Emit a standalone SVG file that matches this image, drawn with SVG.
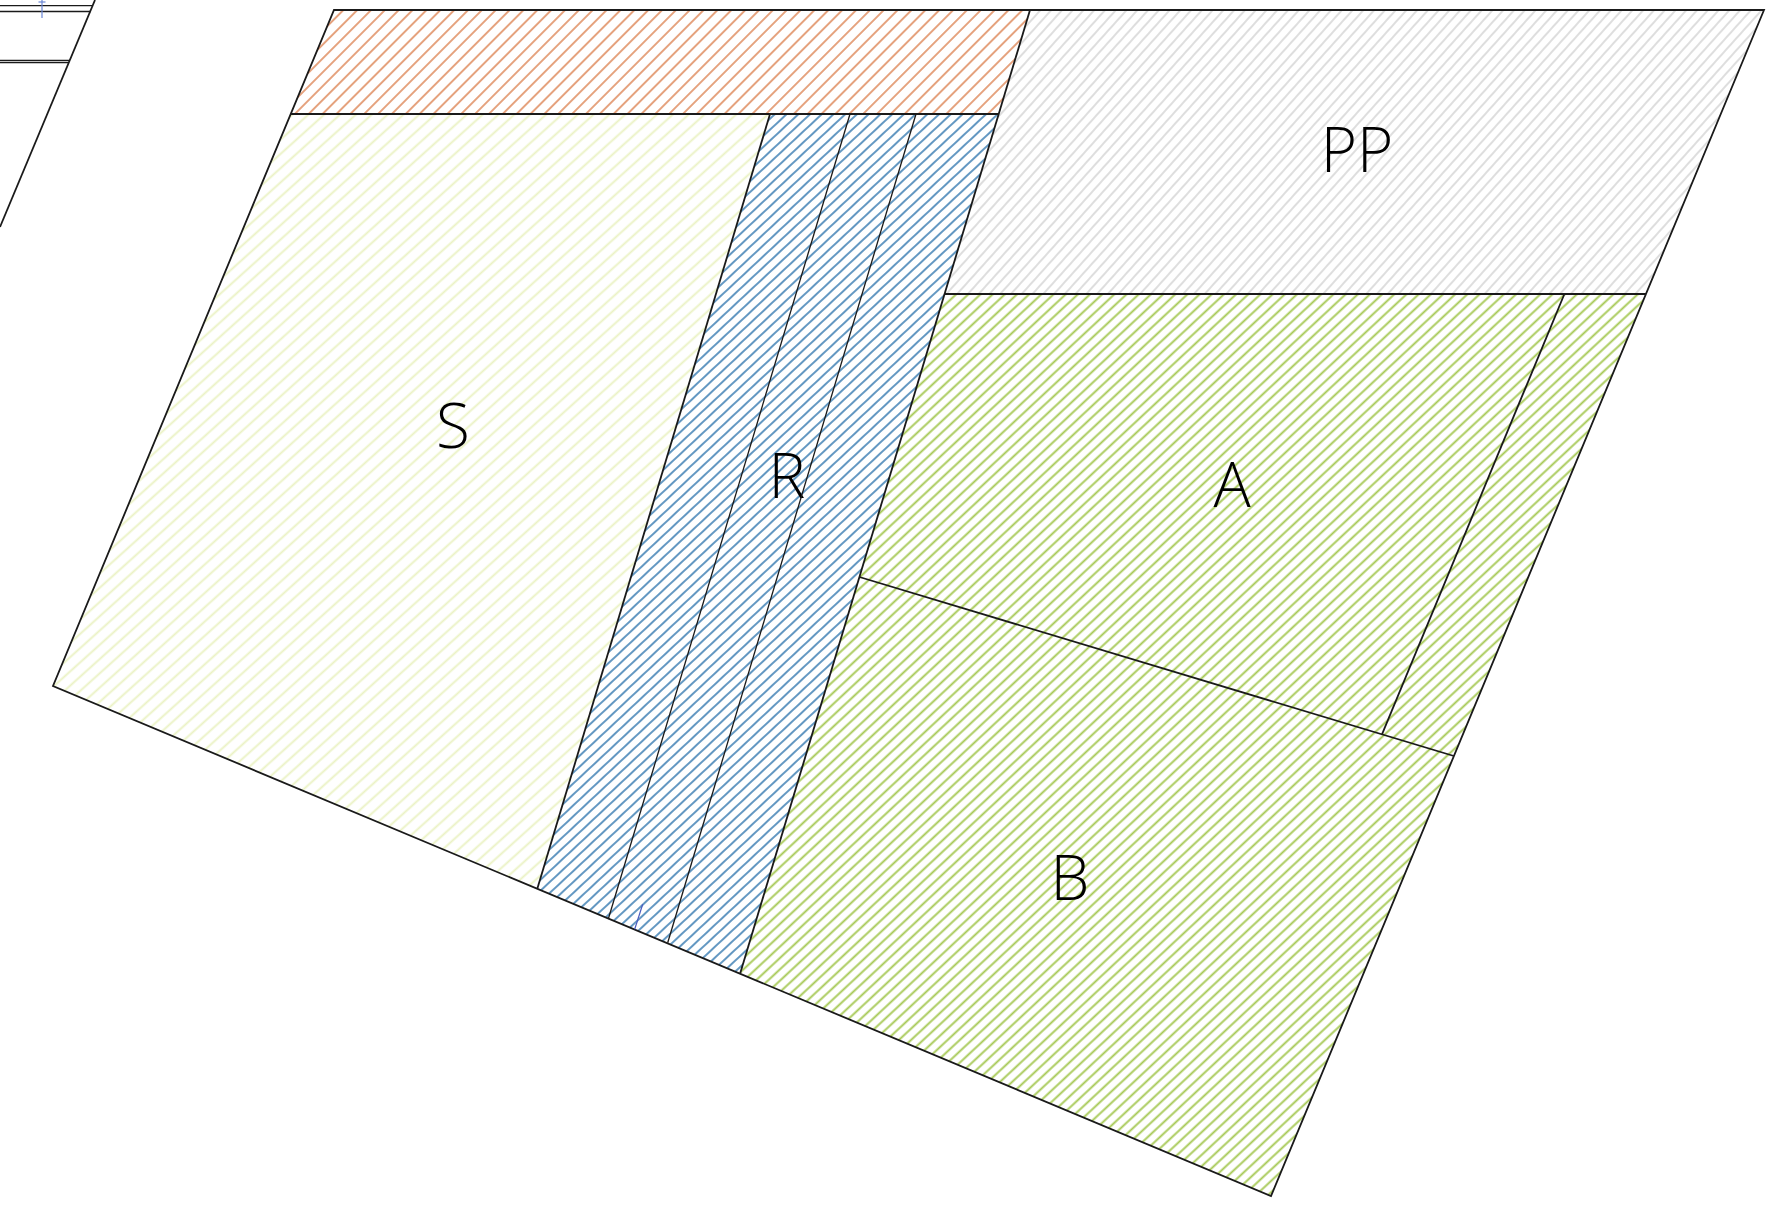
<svg xmlns="http://www.w3.org/2000/svg" width="1771" height="1207" viewBox="0 0 1771 1207">
<defs>
<pattern id="hOrange" patternUnits="userSpaceOnUse" width="9.8" height="9.8" patternTransform="rotate(45)"><line x1="4.9" y1="-1" x2="4.9" y2="10.8" stroke="#e39a72" stroke-width="1.8"/></pattern>
<pattern id="hGrey" patternUnits="userSpaceOnUse" width="8" height="8" patternTransform="rotate(42)"><line x1="4" y1="-1" x2="4" y2="9" stroke="#cccccc" stroke-width="1.3"/></pattern>
<pattern id="hPale" patternUnits="userSpaceOnUse" width="10.6" height="10.6" patternTransform="rotate(48)"><line x1="5.3" y1="-1" x2="5.3" y2="11.6" stroke="#ebf2c4" stroke-width="1.9"/></pattern>
<pattern id="hGreen" patternUnits="userSpaceOnUse" width="8.3" height="8.3" patternTransform="rotate(47)"><line x1="4.15" y1="-1" x2="4.15" y2="9.3" stroke="#a6c955" stroke-width="1.9"/></pattern>
<pattern id="hBlue" patternUnits="userSpaceOnUse" width="8" height="8" patternTransform="rotate(47)"><line x1="4" y1="-1" x2="4" y2="9" stroke="#5b93bf" stroke-width="1.9"/></pattern>
</defs>
<style>
.edge{fill:none;stroke:#1a1a1a;stroke-width:1.8;stroke-linejoin:miter}
.thin{fill:none;stroke:#1a1a1a;stroke-width:1.3}
.lbl{font-family:"Open Sans","Liberation Sans",sans-serif;font-weight:300;font-size:62px;fill:#000;text-anchor:middle}
</style>
<rect width="1771" height="1207" fill="#ffffff"/>

<g id="fragment">
<line class="thin" x1="0" y1="5.7" x2="93" y2="5.7"/>
<line class="thin" x1="0" y1="11.5" x2="90.5" y2="11.5"/>
<line class="thin" x1="0" y1="60.3" x2="70" y2="60.3"/>
<line class="thin" x1="0" y1="62.5" x2="69" y2="62.5"/>
<line class="edge" x1="95" y1="0" x2="0" y2="227"/>
<line x1="42" y1="0" x2="42" y2="18" stroke="#6a86d6" stroke-width="1.2"/>
<line x1="38.5" y1="2" x2="45.5" y2="2" stroke="#6a86d6" stroke-width="1.2"/>
</g>

<g id="zone-orange"><polygon points="334,10 1030,10 998.7,114 290.8,114" fill="url(#hOrange)"/></g>
<g id="zone-S"><polygon points="290.8,114 770,114 537.3,888.8 53,686" fill="url(#hPale)"/>
<text class="lbl" x="453" y="448">S</text></g>
<g id="zone-R"><polygon points="770,114 998.7,114 740,974 537.3,888.8" fill="url(#hBlue)"/>
<text class="lbl" x="787" y="498">R</text></g>
<g id="zone-PP"><polygon points="1030,10 1764,10 1646,294 944.6,294" fill="url(#hGrey)"/>
<text class="lbl" x="1357" y="172">PP</text></g>
<g id="zone-A"><polygon points="944.6,294 1646,294 1453.9,756 859.4,577" fill="url(#hGreen)"/>
<text class="lbl" x="1232" y="507">A</text></g>
<g id="zone-B"><polygon points="859.4,577 1453.9,756 1271,1196 740,974" fill="url(#hGreen)"/>
<text class="lbl" x="1070" y="900">B</text></g>

<g id="lines">
<polygon class="edge" points="334,10 1764,10 1271,1196 53,686"/>
<line class="edge" x1="290.8" y1="114" x2="998.7" y2="114"/>
<line class="edge" x1="1030" y1="10" x2="740" y2="974"/>
<line class="edge" x1="770" y1="114" x2="537.3" y2="888.8"/>
<line class="thin" x1="850" y1="114" x2="608.3" y2="919"/>
<line class="thin" x1="916" y1="114" x2="667.7" y2="942.7"/>
<line class="edge" x1="944.6" y1="294" x2="1646" y2="294"/>
<line class="edge" x1="859.4" y1="577" x2="1453.9" y2="756"/>
<line class="edge" x1="1564.4" y1="294" x2="1382" y2="734.4"/>
<line x1="642.7" y1="904.3" x2="634.7" y2="929.3" stroke="#4a5cc0" stroke-width="1.2"/>
</g>
</svg>
